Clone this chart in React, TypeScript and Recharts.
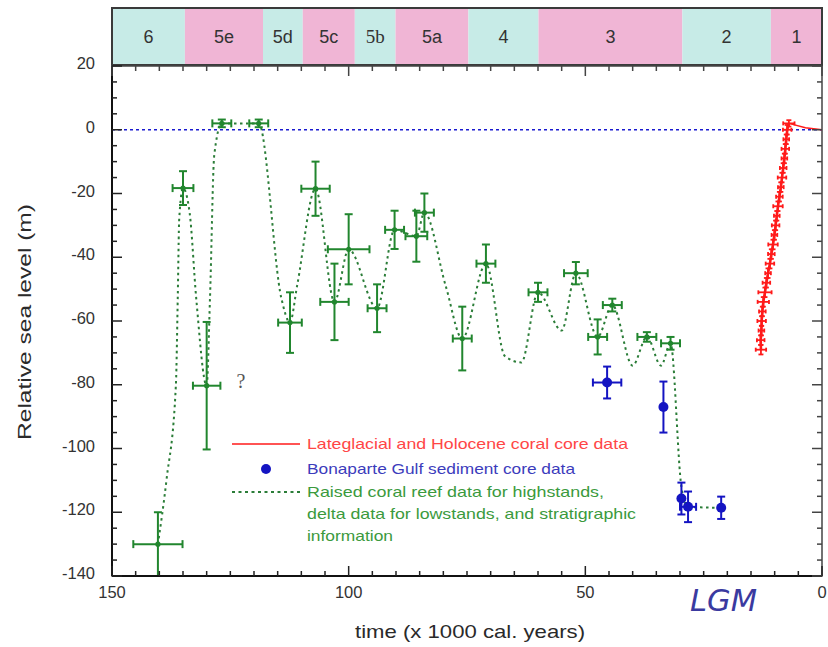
import React from 'react';
import {
  ComposedChart,
  Line,
  Scatter,
  XAxis,
  YAxis,
  ErrorBar,
  ReferenceArea,
  ReferenceLine,
} from 'recharts';

// ---------- data ----------
const stageBounds = [150, 134.6, 118.1, 109.7, 98.7, 90.1, 74.7, 59.9, 29.5, 10.8, 0];
const stageLabels = ['6', '5e', '5d', '5c', '5b', '5a', '4', '3', '2', '1'];
const stageColors = ['#c7ebe7', '#f0b5d5', '#c7ebe7', '#f0b5d5', '#c7ebe7', '#f0b5d5', '#c7ebe7', '#f0b5d5', '#c7ebe7', '#f0b5d5'];

// raised coral reef / delta / stratigraphic data (t = kyr BP, v = m, ex/ey = errors)
const greenPoints = [
  { t: 140.3, v: -130, ex: 5.2, ey: 10 },
  { t: 135, v: -18.3, ex: 2.2, ey: 5.3 },
  { t: 130, v: -80.3, ex: 2.9, ey: 20 },
  { t: 126.8, v: 2, ex: 2, ey: 1.2 },
  { t: 119, v: 2, ex: 2, ey: 1.2 },
  { t: 112.4, v: -60.5, ex: 2.5, ey: 9.5 },
  { t: 107, v: -18.5, ex: 3, ey: 8.5 },
  { t: 103, v: -54, ex: 3, ey: 12 },
  { t: 100, v: -37.5, ex: 4.4, ey: 11 },
  { t: 94, v: -56, ex: 2, ey: 7.5 },
  { t: 90.3, v: -31.4, ex: 2, ey: 6 },
  { t: 85.7, v: -33.4, ex: 2.3, ey: 8 },
  { t: 84, v: -26, ex: 2, ey: 6 },
  { t: 76, v: -65.5, ex: 2, ey: 10 },
  { t: 71, v: -42, ex: 2, ey: 6 },
  { t: 60, v: -51, ex: 2, ey: 3 },
  { t: 52, v: -45, ex: 2.5, ey: 3.5 },
  { t: 47.4, v: -65, ex: 2, ey: 5.5 },
  { t: 44.3, v: -55, ex: 2, ey: 2 },
  { t: 37, v: -65, ex: 2, ey: 1.5 },
  { t: 32, v: -67, ex: 2, ey: 2 },
];

// dotted curve through highstands and lowstands
const greenPath = [
  { t: 140.3, v: -130 },
  { t: 138.5, v: -110 },
  { t: 136.5, v: -80 },
  { t: 136.1, v: -52 },
  { t: 135.8, v: -28 },
  { t: 135, v: -18.3 },
  { t: 133.6, v: -26 },
  { t: 132.2, v: -53 },
  { t: 130, v: -80.3 },
  { t: 129.3, v: -53 },
  { t: 128.4, v: -8 },
  { t: 126.8, v: 2 },
  { t: 119, v: 2 },
  { t: 114.2, v: -53 },
  { t: 112.4, v: -60.5 },
  { t: 110.9, v: -49 },
  { t: 107, v: -18.5 },
  { t: 103, v: -54 },
  { t: 100, v: -37.5 },
  { t: 94, v: -56 },
  { t: 90.3, v: -31.4 },
  { t: 85.7, v: -33.4 },
  { t: 84, v: -26 },
  { t: 79.5, v: -49 },
  { t: 76, v: -65.5 },
  { t: 71, v: -42 },
  { t: 67, v: -71 },
  { t: 63.5, v: -73 },
  { t: 60, v: -51 },
  { t: 55, v: -63 },
  { t: 52, v: -45 },
  { t: 47.4, v: -65 },
  { t: 44.3, v: -55 },
  { t: 40, v: -74 },
  { t: 37, v: -65 },
  { t: 34, v: -74 },
  { t: 32, v: -67 },
  { t: 29.7, v: -112 },
  { t: 28.3, v: -118.3 },
  { t: 21.3, v: -118.6 },
];

// Bonaparte Gulf sediment core data
const bluePoints = [
  { t: 45.4, v: -79.3, ex: 3, ey: 5 },
  { t: 33.5, v: -87, ex: 0, ey: 8 },
  { t: 29.7, v: -115.7, ex: 0, ey: 5 },
  { t: 28.3, v: -118.3, ex: 1.7, ey: 4.8 },
  { t: 21.3, v: -118.6, ex: 0, ey: 3.5 },
];

// Lateglacial and Holocene coral core data
const redPoints = [
  { t: 12.9, v: -69, ex: 1.1, ey: 1.5 },
  { t: 12.95, v: -66, ex: 0.8, ey: 1.5 },
  { t: 12.8, v: -63, ex: 0.6, ey: 1.5 },
  { t: 12.75, v: -60, ex: 0.9, ey: 1.5 },
  { t: 12.6, v: -57, ex: 0.7, ey: 1.5 },
  { t: 12.4, v: -54, ex: 1.2, ey: 1.5 },
  { t: 12.05, v: -51, ex: 1.4, ey: 1.5 },
  { t: 11.75, v: -48, ex: 0.8, ey: 1.5 },
  { t: 11.4, v: -45, ex: 0.6, ey: 1.5 },
  { t: 11.0, v: -42, ex: 0.9, ey: 1.5 },
  { t: 10.7, v: -39, ex: 0.7, ey: 1.5 },
  { t: 10.35, v: -36, ex: 1.0, ey: 1.5 },
  { t: 10.05, v: -33, ex: 0.6, ey: 1.5 },
  { t: 9.8, v: -30, ex: 0.8, ey: 1.5 },
  { t: 9.55, v: -27, ex: 0.6, ey: 1.5 },
  { t: 9.3, v: -24, ex: 1.0, ey: 1.5 },
  { t: 9.0, v: -21, ex: 0.7, ey: 1.5 },
  { t: 8.7, v: -18, ex: 0.6, ey: 1.5 },
  { t: 8.45, v: -15, ex: 0.9, ey: 1.5 },
  { t: 8.2, v: -12, ex: 0.7, ey: 1.5 },
  { t: 7.95, v: -9, ex: 0.6, ey: 1.5 },
  { t: 7.75, v: -6, ex: 0.8, ey: 1.5 },
  { t: 7.55, v: -3, ex: 0.6, ey: 1.5 },
  { t: 7.35, v: 0, ex: 0.9, ey: 1.5 },
  { t: 7.0, v: 2, ex: 1.2, ey: 1 },
];
const redTail = [
  { t: 7.0, v: 2 },
  { t: 3.5, v: 0.6 },
  { t: 0, v: 0 },
];

const xMajor = [150, 100, 50, 0];
const yMajor = [20, 0, -20, -40, -60, -80, -100, -120, -140];
const xTicks: number[] = [];
for (let i = 0; i <= 150; i += 5) xTicks.push(i);
const yTicks: number[] = [];
for (let i = -140; i <= 20; i += 5) yTicks.push(i);

// ---------- layout / style ----------
const W = 828;
const H = 647;
const PLOT_L = 112;
const PLOT_R = 822;
const PLOT_T = 66;
const PLOT_B = 576;
const FONT = '"Liberation Sans", Arial, Helvetica, sans-serif';

const GREEN = '#21862e';
const GREEN_LINE = '#2b7d38';
const BLUE = '#1414c2';
const RED = '#ff1a1a';

const YTick = (props: any) => {
  const { y, payload } = props;
  const v = payload.value;
  const major = yMajor.includes(v);
  const len = major ? 10 : 5;
  return (
    <g>
      <line x1={PLOT_L} x2={PLOT_L + len} y1={y} y2={y} stroke="#222" strokeWidth={1.5} />
      <line x1={PLOT_R} x2={PLOT_R - len} y1={y} y2={y} stroke="#444" strokeWidth={1.5} />
      {major && (
        <text x={95} y={y} dy={3} textAnchor="end" fontSize={16.5} fill="#333" fontFamily={FONT}>
          {v}
        </text>
      )}
    </g>
  );
};

const XTick = (props: any) => {
  const { x, payload } = props;
  const v = payload.value;
  const major = xMajor.includes(v);
  const len = major ? 10 : 5;
  return (
    <g>
      <line x1={x} x2={x} y1={PLOT_B} y2={PLOT_B - len} stroke="#222" strokeWidth={1.5} />
      <line x1={x} x2={x} y1={PLOT_T} y2={PLOT_T + len} stroke="#444" strokeWidth={1.5} />
      {major && (
        <text x={x} y={598} textAnchor="middle" fontSize={16.5} fill="#333" fontFamily={FONT}>
          {v}
        </text>
      )}
    </g>
  );
};

const greenDot = (p: any) => <circle cx={p.cx} cy={p.cy} r={2.6} fill={GREEN} />;
const blueDot = (p: any) => <circle cx={p.cx} cy={p.cy} r={5} fill={BLUE} />;
const noDot = () => <g />;

export default function App() {
  return (
    <div style={{ position: 'absolute', left: 0, top: 0, width: W, height: H, background: '#fff' }}>
      {/* MIS stage band */}
      <div style={{ position: 'absolute', left: 0, top: 0 }}>
        <ComposedChart
          width={W}
          height={PLOT_T}
          margin={{ top: 8, right: W - PLOT_R, bottom: 1, left: PLOT_L }}
          data={[{ t: 0, v: 0 }, { t: 150, v: 1 }]}
        >
          <XAxis type="number" dataKey="t" domain={[0, 150]} reversed hide allowDataOverflow />
          <YAxis type="number" dataKey="v" domain={[0, 1]} hide allowDataOverflow />
          {stageLabels.map((lab, i) => (
            <ReferenceArea
              key={lab}
              x1={stageBounds[i]}
              x2={stageBounds[i + 1]}
              y1={0}
              y2={1}
              fill={stageColors[i]}
              fillOpacity={1}
              stroke="none"
              ifOverflow="visible"
              label={{
                value: lab,
                position: 'center',
                fill: '#333',
                fontSize: lab === '5b' ? 19 : 18,
                fontFamily: lab === '5b' ? '"Liberation Serif", "DejaVu Serif", serif' : FONT,
              }}
            />
          ))}
          <ReferenceArea x1={150} x2={0} y1={0} y2={1} fill="none" stroke="#3a3a3a" strokeWidth={2} ifOverflow="visible" />
          <Line dataKey="v" stroke="none" dot={false} isAnimationActive={false} legendType="none" />
        </ComposedChart>
      </div>

      {/* main chart */}
      <div style={{ position: 'absolute', left: 0, top: 0 }}>
        <ComposedChart
          width={W}
          height={H}
          margin={{ top: PLOT_T, right: W - PLOT_R, bottom: H - PLOT_B - 30, left: PLOT_L - 60 }}
        >
          <XAxis
            type="number"
            dataKey="t"
            domain={[0, 150]}
            reversed
            allowDataOverflow
            ticks={xTicks}
            interval={0}
            height={30}
            tickSize={0}
            tickLine={false}
            tick={<XTick />}
            axisLine={{ stroke: '#111', strokeWidth: 2 }}
          />
          <YAxis
            type="number"
            dataKey="v"
            domain={[-140, 20]}
            allowDataOverflow
            ticks={yTicks}
            interval={0}
            width={60}
            tickSize={0}
            tickLine={false}
            tick={<YTick />}
            axisLine={{ stroke: '#111', strokeWidth: 2 }}
          />
          <ReferenceArea x1={150} x2={0} y1={-140} y2={20} fill="none" stroke="#444" strokeWidth={1.5} />
          <ReferenceLine y={0} stroke="#1a1ad0" strokeWidth={1.6} strokeDasharray="3 3" />

          <Line
            data={greenPath}
            dataKey="v"
            type="monotone"
            stroke={GREEN_LINE}
            strokeWidth={2}
            strokeDasharray="2.5 3.5"
            dot={false}
            isAnimationActive={false}
          />
          <Scatter data={greenPoints} fill={GREEN} shape={greenDot} isAnimationActive={false}>
            <ErrorBar dataKey="ex" direction="x" width={4} stroke={GREEN} strokeWidth={2} isAnimationActive={false} />
            <ErrorBar dataKey="ey" direction="y" width={4} stroke={GREEN} strokeWidth={2} isAnimationActive={false} />
          </Scatter>

          <Scatter data={bluePoints} fill={BLUE} shape={blueDot} isAnimationActive={false}>
            <ErrorBar dataKey="ex" direction="x" width={4} stroke={BLUE} strokeWidth={2} isAnimationActive={false} />
            <ErrorBar dataKey="ey" direction="y" width={4} stroke={BLUE} strokeWidth={2} isAnimationActive={false} />
          </Scatter>

          <Line
            data={redTail}
            dataKey="v"
            type="linear"
            stroke={RED}
            strokeWidth={1.5}
            dot={false}
            isAnimationActive={false}
          />
          <Line
            data={redPoints}
            dataKey="v"
            type="linear"
            stroke={RED}
            strokeWidth={2.6}
            dot={false}
            isAnimationActive={false}
          />
          <Scatter data={redPoints} fill={RED} shape={noDot} isAnimationActive={false}>
            <ErrorBar dataKey="ex" direction="x" width={2} stroke={RED} strokeWidth={1.8} isAnimationActive={false} />
            <ErrorBar dataKey="ey" direction="y" width={2.5} stroke={RED} strokeWidth={1.8} isAnimationActive={false} />
          </Scatter>
        </ComposedChart>
      </div>

      {/* legend, titles and annotations */}
      <svg
        width={W}
        height={H}
        style={{ position: 'absolute', left: 0, top: 0, pointerEvents: 'none' }}
        fontFamily={FONT}
      >
        <line x1={232} x2={300} y1={444} y2={444} stroke={RED} strokeWidth={1.6} />
        <text x={307} y={448.5} fontSize={14.5} fill="#ff4646" textLength={321} lengthAdjust="spacingAndGlyphs">
          Lateglacial and Holocene coral core data
        </text>
        <circle cx={266} cy={469} r={5} fill={BLUE} />
        <text x={307} y={474} fontSize={14.5} fill="#3c3cbc" textLength={268} lengthAdjust="spacingAndGlyphs">
          Bonaparte Gulf sediment core data
        </text>
        <line x1={232} x2={300} y1={492} y2={492} stroke={GREEN_LINE} strokeWidth={2} strokeDasharray="3 3.5" />
        <text x={307} y={497} fontSize={14.5} fill="#3b9a3d" textLength={297} lengthAdjust="spacingAndGlyphs">
          Raised coral reef data for highstands,
        </text>
        <text x={307} y={519} fontSize={14.5} fill="#3b9a3d" textLength={329} lengthAdjust="spacingAndGlyphs">
          delta data for lowstands, and stratigraphic
        </text>
        <text x={307} y={541} fontSize={14.5} fill="#3b9a3d" textLength={86} lengthAdjust="spacingAndGlyphs">
          information
        </text>

        <text x={241} y={388} fontSize={20} fill="#555" textAnchor="middle" fontFamily='"Liberation Serif", serif'>
          ?
        </text>

        <text
          x={690}
          y={611}
          fontSize={30}
          fill="#3a3aa0"
          fontStyle="italic"
          fontWeight={200}
          fontFamily='"DejaVu Sans", sans-serif'
          textLength={67}
          lengthAdjust="spacingAndGlyphs"
        >
          LGM
        </text>

        <text x={355} y={638} fontSize={18.5} fill="#2a2a2a" textLength={230} lengthAdjust="spacingAndGlyphs">
          time (x 1000 cal. years)
        </text>

        <text
          x={0}
          y={0}
          transform="translate(31,322) rotate(-90)"
          textAnchor="middle"
          fontSize={18}
          fill="#2a2a2a"
          textLength={236}
          lengthAdjust="spacingAndGlyphs"
        >
          Relative sea level (m)
        </text>
      </svg>
    </div>
  );
}
